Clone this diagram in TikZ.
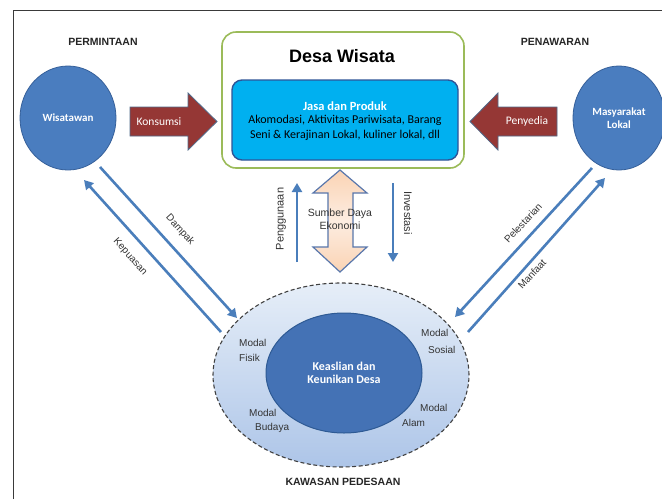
\documentclass[tikz,border=0pt]{standalone}
\usepackage{fontspec}
\setmainfont{Liberation Sans}
\newfontfamily\calfont{Carlito}
\usetikzlibrary{arrows.meta,shapes.geometric}
\definecolor{circfill}{HTML}{4A7DBF}
\definecolor{circedge}{HTML}{36609A}
\definecolor{boxcyan}{HTML}{00B0F0}
\definecolor{boxedge}{HTML}{2F5597}
\definecolor{greenedge}{HTML}{9BBB59}
\definecolor{redfill}{HTML}{953735}
\definecolor{rededge}{HTML}{4F6A8A}
\definecolor{lineblue}{HTML}{4A7EBB}
\definecolor{peach}{HTML}{FAD3B4}
\definecolor{peachlight}{HTML}{FDEDE1}
\definecolor{outertop}{HTML}{E6EEF8}
\definecolor{outerbot}{HTML}{ADC5E8}
\definecolor{inner}{HTML}{4472B5}
\definecolor{inneredge}{HTML}{2E5A94}
\definecolor{labgray}{HTML}{333333}
\definecolor{framegray}{HTML}{3A3A3A}
\begin{document}
\begin{tikzpicture}[x=1pt,y=-1pt,
  bigcirc/.style={ellipse, fill=circfill, draw=circedge, line width=0.8pt, text=white,
     font=\calfont\bfseries\fontsize{11}{13}\selectfont, align=center},
  redarrow/.style={fill=redfill, draw=rededge, line width=0.8pt},
  redtext/.style={text=white, font=\calfont\fontsize{11.5}{13}\selectfont},
  flow/.style={draw=lineblue, line width=2.6pt, -{Triangle[length=9pt,width=10pt]}},
  lab/.style={text=labgray, font=\fontsize{10}{12}\selectfont, inner sep=0pt},
  headtxt/.style={text=black!85, font=\bfseries\fontsize{10.5}{12}\selectfont},
  modal/.style={text=labgray, font=\fontsize{10}{12}\selectfont, align=left, inner sep=0pt}
]
\useasboundingbox (0,0) rectangle (662,499);
\fill[white] (0,0) rectangle (662,499);
% frame
\coordinate (fa) at (13,499);
\coordinate (fb) at (13,10.5);
\coordinate (fc) at (662,10.5);
\draw[framegray, line width=1pt] (fa) -- (fb) -- (fc);

% headings
\node[headtxt] (perm) at (103,42) {PERMINTAAN};
\node[headtxt] (pena) at (555,42) {PENAWARAN};

% circles
\node[bigcirc, minimum width=96pt, minimum height=104pt] (wis) at (68,118) {Wisatawan};
\node[bigcirc, minimum width=92pt, minimum height=104pt] (mas) at (619,118) {Masyarakat\\Lokal};

% Desa Wisata
\node[draw=greenedge, line width=1.6pt, rounded corners=14pt, minimum width=242pt, minimum height=136pt] (desa) at (343,100) {};
\node[font=\bfseries\fontsize{18}{20}\selectfont] (title) at (342,56) {Desa Wisata};
\node[fill=boxcyan, draw=boxedge, line width=1.4pt, rounded corners=10pt, minimum width=226pt, minimum height=80pt] (jasa) at (345,120) {};
\node[align=center, font=\calfont\fontsize{12}{13.5}\selectfont, inner sep=0pt] (jasatxt) at (345,121)
  {\textcolor{white}{\bfseries\fontsize{12.5}{13.5}\selectfont Jasa dan Produk}\\
   Akomodasi, Aktivitas Pariwisata, Barang\\[1.5pt]
   Seni \& Kerajinan Lokal, kuliner lokal, dll};

% red arrows
\draw[redarrow] (130,107) -- (188,107) -- (188,93) -- (217,121.5) -- (188,150) -- (188,136) -- (130,136) -- cycle;
\node[redtext] (kons) at (159,121.5) {Konsumsi};
\draw[redarrow] (557,107) -- (498,107) -- (498,93) -- (470,121.5) -- (498,150) -- (498,136) -- (557,136) -- cycle;
\node[redtext] (peny) at (527,121.5) {Penyedia};

% Kawasan
\node[ellipse, top color=outertop, bottom color=outerbot, draw=black!75, line width=1.1pt,
  dash pattern=on 4pt off 2.5pt, minimum width=256pt, minimum height=184pt] (kaw) at (341,375) {};
\node[ellipse, fill=inner, draw=inneredge, line width=1pt, minimum width=156pt, minimum height=120pt,
  text=white, font=\calfont\bfseries\fontsize{12}{13}\selectfont, align=center] (asli) at (344,373) {Keaslian dan\\Keunikan Desa};
\node[font=\bfseries\fontsize{10.5}{12}\selectfont, text=black!85] (kawlab) at (343,482) {KAWASAN PEDESAAN};

\node[modal, anchor=west] (mf1) at (239,343) {Modal};
\node[modal, anchor=west] (mf2) at (239,358) {Fisik};
\node[modal, anchor=west] (ms1) at (421,333) {Modal};
\node[modal, anchor=west] (ms2) at (428,350) {Sosial};
\node[modal, anchor=west] (mb1) at (249,413) {Modal};
\node[modal, anchor=west] (mb2) at (255,428) {Budaya};
\node[modal, anchor=west] (ma1) at (420,408) {Modal};
\node[modal, anchor=west] (ma2) at (402,423) {Alam};

% double arrow
\draw[draw=boxedge!80, line width=1.2pt, top color=peach, bottom color=peach, middle color=peachlight]
  (340,170) -- (367,193) -- (353,193) -- (353,247) -- (367,247) -- (340,272) -- (313,247) -- (328,247) -- (328,193) -- (313,193) -- cycle;
\node[lab, align=center, font=\fontsize{10.5}{13}\selectfont] (sde) at (340,219) {Sumber Daya\\Ekonomi};

% vertical arrows
\coordinate (pg1) at (297,262);
\coordinate (pg2) at (297,183);
\draw[flow, line width=2.2pt] (pg1) -- (pg2);
\node[lab, rotate=90, font=\fontsize{11}{12}\selectfont] (pglab) at (281,219) {Penggunaan};
\coordinate (in1) at (393,183);
\coordinate (in2) at (393,262);
\draw[flow, line width=2.2pt] (in1) -- (in2);
\node[lab, rotate=-90, font=\fontsize{11}{12}\selectfont] (inlab) at (408,213) {Investasi};

% diagonal left
\coordinate (d1) at (100,167);
\coordinate (d2) at (237,318);
\draw[flow] (d1) -- (d2);
\node[lab, rotate=-47.8] (damp) at (180,230) {Dampak};
\coordinate (k1) at (221,332);
\coordinate (k2) at (84,180);
\draw[flow] (k1) -- (k2);
\node[lab, rotate=-47.8] (kep) at (130,257) {Kepuasan};

% diagonal right
\coordinate (p1) at (592,168);
\coordinate (p2) at (455,317);
\draw[flow] (p1) -- (p2);
\node[lab, rotate=47.4] (pel) at (523,223) {Pelestarian};
\coordinate (m1) at (468,332);
\coordinate (m2) at (605,178);
\draw[flow] (m1) -- (m2);
\node[lab, rotate=47.4] (man) at (532,274) {Manfaat};
\end{tikzpicture}
\end{document}
